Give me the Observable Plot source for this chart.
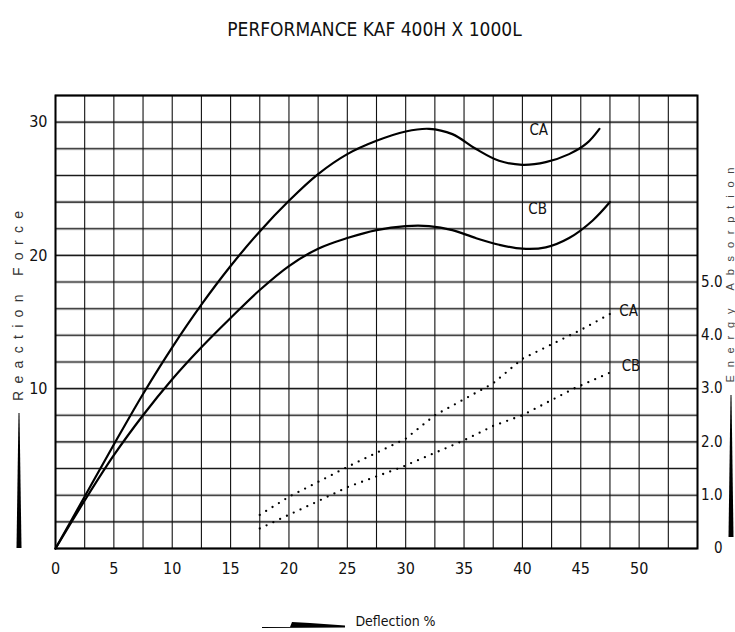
<!DOCTYPE html>
<html><head><meta charset="utf-8">
<script src="https://cdn.jsdelivr.net/npm/d3@7"></script>
<script src="https://cdn.jsdelivr.net/npm/@observablehq/plot@0.6"></script>
<style>
body{margin:0;background:#fff;width:735px;height:632px;overflow:hidden;font-family:"Liberation Sans Narrow","DejaVu Sans Condensed",sans-serif;color:#111}
#title{height:50px;line-height:58px;text-align:center;font-size:19px;padding-left:14px;box-sizing:border-box}
</style></head><body>
<div id="title">PERFORMANCE KAF 400H X 1000L</div>
<div id="chart"></div>
<script>
// Reaction force curves (deflection %, reaction force in chart's left-axis units)
const deflectionCA = [0,2.5,5,7.5,10,12.5,15,17.5,20,22.5,25,27.5,30,32,34,36,38,40,42,44,45.5,46.6];
const forceCA      = [-2,1.9,5.8,9.6,13.1,16.3,19.2,21.8,24.1,26.1,27.6,28.6,29.3,29.5,29.1,28.0,27.1,26.8,27.0,27.6,28.4,29.5];
const deflectionCB = [0,2.5,5,7.5,10,12.5,15,17.5,20,22.5,25,27.5,30,32,34,36,38,40,42,44,46,47.5];
const forceCB      = [-2,1.6,5.0,8.0,10.7,13.1,15.3,17.4,19.2,20.5,21.3,21.9,22.2,22.2,21.9,21.3,20.8,20.5,20.6,21.3,22.6,24.0];
// Energy absorption (right axis) dotted curves
const energyDeflCA = [17.5,20,25,30,32.5,37.5,40,45,47.5];
const energyCA     = [0.63,0.97,1.53,2.06,2.5,3.1,3.56,4.1,4.4];
const energyDeflCB = [17.5,22.9,25,29.7,35,37.5,40,44.4,47.5];
const energyCB     = [0.375,0.93,1.15,1.53,2.03,2.3,2.5,3.0,3.3];
// Axes
const xTicks = [0,5,10,15,20,25,30,35,40,45,50];
const yTicks = [10,20,30];
const energyTicks = [0,1,2,3,4,5];
const energyTickLabels = ["0","1.0","2.0","3.0","4.0","5.0"];
// Curve labels
const curveLabels = ["CA","CB"];
const curveLabelX = [41.4,41.3];
const curveLabelY = [29.4,23.5];
const energyLabelX = [48.3,48.5];
const energyLabelE = [4.45,3.42];
// Axis titles
const xTitle = "Deflection %";
const yTitle = "Reaction Force";
const y2Title = "Energy Absorption";

const toY = e => -2 + 4 * e;            // right axis (energy) expressed in left-axis units
const xGrid = d3.range(0, 55.01, 2.5);
const yGrid = d3.range(-2, 32.01, 2);

const lineCA = deflectionCA.map((x, i) => ({x, y: forceCA[i]}));
const lineCB = deflectionCB.map((x, i) => ({x, y: forceCB[i]}));
const dotCA = energyDeflCA.map((x, i) => ({x, e: energyCA[i]}));
const dotCB = energyDeflCB.map((x, i) => ({x, e: energyCB[i]}));
const solidLab = curveLabels.map((t, i) => ({t, x: curveLabelX[i], y: curveLabelY[i]}));
const dotLab = curveLabels.map((t, i) => ({t, x: energyLabelX[i], e: energyLabelE[i]}));

const font = '"Liberation Sans Narrow","DejaVu Sans Condensed",sans-serif';
const plot = Plot.plot({
  width: 735, height: 582,
  marginTop: 45, marginBottom: 84, marginLeft: 55, marginRight: 38,
  x: {domain: [0, 55]},
  y: {domain: [-2, 32]},
  style: {fontFamily: font, fontSize: "16px", color: "#111", background: "white", overflow: "visible"},
  marks: [
    Plot.ruleY(yGrid, {stroke: "#999", strokeWidth: 3, strokeOpacity: 0.55}),
    Plot.ruleY(yGrid, {stroke: "#1a1a1a", strokeWidth: 1.1}),
    Plot.ruleX(xGrid, {stroke: "#111", strokeWidth: 1.1}),
    Plot.frame({stroke: "#000", strokeWidth: 2}),
    Plot.axisX({ticks: xTicks, tickSize: 0, tickPadding: 14, label: null, fontSize: 16}),
    Plot.axisY({ticks: yTicks, tickSize: 0, tickPadding: 8, label: null, fontSize: 16}),
    Plot.axisY({anchor: "right", ticks: energyTicks.map(toY), tickSize: 0, tickPadding: 25, textAnchor: "end",
      tickFormat: d => energyTickLabels[energyTicks.findIndex(e => Math.abs(toY(e) - d) < 1e-9)], label: null, fontSize: 15}),
    Plot.line(lineCA, {x: "x", y: "y", curve: "catmull-rom", stroke: "#000", strokeWidth: 2.2}),
    Plot.line(lineCB, {x: "x", y: "y", curve: "catmull-rom", stroke: "#000", strokeWidth: 2.2}),
    Plot.line(dotCA, {x: "x", y: d => toY(d.e), stroke: "#000", strokeWidth: 2.3, strokeDasharray: "0,7.5", strokeLinecap: "round"}),
    Plot.line(dotCB, {x: "x", y: d => toY(d.e), stroke: "#000", strokeWidth: 2.3, strokeDasharray: "0,7.5", strokeLinecap: "round"}),
    Plot.text(solidLab, {x: "x", y: "y", text: "t", fontSize: 15, fill: "#111"}),
    Plot.text(dotLab, {x: "x", y: d => toY(d.e), text: "t", fontSize: 15, textAnchor: "start", fill: "#111"}),
    Plot.text([xTitle], {frameAnchor: "bottom", dx: 19, dy: 77, fontSize: 14, fill: "#111"})
  ]
});
document.getElementById("chart").appendChild(plot);

const svg = d3.select(plot);
const sans = '"Liberation Sans","DejaVu Sans",sans-serif';
// rotated axis titles
svg.append("text").text(yTitle)
  .attr("transform", "translate(23,256) rotate(-90)")
  .attr("text-anchor", "middle").attr("textLength", 190).attr("lengthAdjust", "spacing")
  .attr("font-family", sans).attr("font-size", 14).attr("fill", "#333");
svg.append("text").text(y2Title)
  .attr("transform", "translate(734,225) rotate(-90)")
  .attr("text-anchor", "middle").attr("textLength", 215).attr("lengthAdjust", "spacing")
  .attr("font-family", sans).attr("font-size", 11).attr("fill", "#444");
// decorative wedge-shaped bars (arrows) next to the axis titles
svg.append("path").attr("d", "M18.5,363 L19.5,363 L21.5,498 L16.5,498 Z").attr("fill", "#000");
svg.append("path").attr("d", "M730.5,345 L731.5,345 L733.5,487 L728.5,487 Z").attr("fill", "#000");
svg.append("path").attr("d", "M262,577 L290,577 L292,572 L310,573 L345,575.5 L345,577.5 L262,578 Z").attr("fill", "#000");
</script>
</body></html>
